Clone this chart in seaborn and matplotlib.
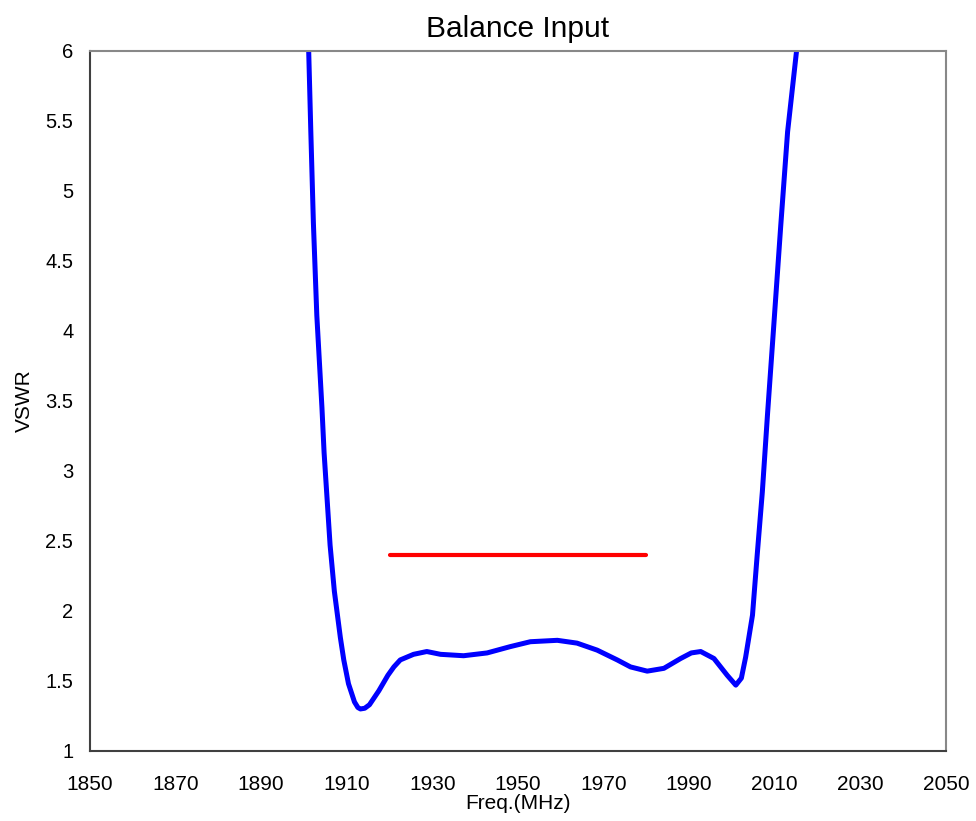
import pandas as pd
import matplotlib.pyplot as plt
import seaborn as sns

freq = [1901.1, 1901.6, 1902.2, 1903.0, 1904.2, 1904.7, 1905.4, 1906.1, 1907.1,
        1908.5, 1909.3, 1910.4, 1911.8, 1912.6, 1913.2, 1914.2, 1915.3, 1917.5,
        1919.6, 1921.0, 1922.5, 1925.6, 1928.7, 1931.9, 1937.3, 1942.8, 1948.2,
        1952.9, 1959.2, 1963.8, 1968.5, 1973.2, 1976.3, 1980.2, 1984.1, 1988.0,
        1990.5, 1992.7, 1995.8, 1998.9, 2000.9, 2002.2, 2003.2, 2004.8, 2005.9,
        2007.1, 2008.3, 2009.8, 2011.4, 2013.0, 2015.1]
vswr = [6.0, 5.42, 4.77, 4.11, 3.45, 3.13, 2.80, 2.47, 2.14,
        1.81, 1.65, 1.48, 1.35, 1.31, 1.30, 1.305, 1.33, 1.43,
        1.54, 1.60, 1.65, 1.69, 1.71, 1.69, 1.68, 1.70, 1.745,
        1.78, 1.79, 1.77, 1.72, 1.65, 1.60, 1.57, 1.59, 1.66,
        1.70, 1.71, 1.66, 1.54, 1.47, 1.52, 1.67, 1.97, 2.40,
        2.85, 3.40, 4.05, 4.75, 5.42, 6.0]

# Spec line
spec_freq = [1920, 1980]
spec_vswr = [2.4, 2.4]

xticks = list(range(1850, 2051, 20))
yticks = [1, 1.5, 2, 2.5, 3, 3.5, 4, 4.5, 5, 5.5, 6]

sns.set_style('white')
plt.rcParams['font.family'] = ['Liberation Sans', 'DejaVu Sans']
plt.rcParams['text.color'] = 'black'
plt.rcParams['axes.labelcolor'] = 'black'
plt.rcParams['xtick.color'] = 'black'
plt.rcParams['ytick.color'] = 'black'

df = pd.DataFrame({'freq': freq, 'vswr': vswr})
spec = pd.DataFrame({'freq': spec_freq, 'vswr': spec_vswr})

fig = plt.figure(figsize=(9.76, 8.21), dpi=100)
ax = fig.add_axes([0.0922, 0.0853, 0.877, 0.853])

sns.lineplot(data=df, x='freq', y='vswr', ax=ax, color='#0000ff', linewidth=3.6,
             sort=False, solid_joinstyle='round', solid_capstyle='round')
sns.lineplot(data=spec, x='freq', y='vswr', ax=ax, color='#ff0000', linewidth=3,
             solid_capstyle='round')

ax.set_xlim(1850, 2050)
ax.set_ylim(1, 6)
ax.set_xticks(xticks)
ax.set_yticks(yticks)
ax.set_yticklabels([f'{v:g}' for v in yticks])
ax.tick_params(axis='x', length=0, labelsize=15, pad=17)
ax.tick_params(axis='y', direction='in', length=5, width=1, color='#404040',
               labelsize=14.5, pad=12)

ax.spines['left'].set_color('#404040')
ax.spines['bottom'].set_color('#404040')
ax.spines['top'].set_color('#888888')
ax.spines['right'].set_color('#888888')
for s in ax.spines.values():
    s.set_linewidth(1.5)

ax.set_title('Balance Input', fontsize=21.5, pad=10)
ax.set_xlabel('Freq.(MHz)', fontsize=15, labelpad=0)
ax.set_ylabel('VSWR', fontsize=15, labelpad=8)

fig.savefig('out.png', dpi=100)
